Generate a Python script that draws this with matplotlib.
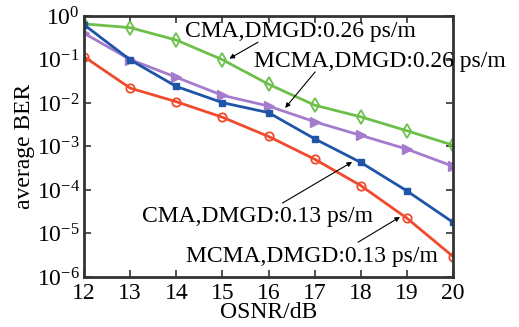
import matplotlib
matplotlib.use('Agg')
import matplotlib.pyplot as plt
import numpy as np

plt.rcParams['font.family'] = ['Liberation Serif', 'DejaVu Serif']
plt.rcParams['mathtext.fontset'] = 'stix'

osnr = [12, 13, 14, 15, 16, 17, 18, 19, 20]
cma_026 = [0.66, 0.54, 0.28, 0.099, 0.027, 0.0089, 0.0048, 0.0023, 0.00107]
mcma_026 = [0.40, 0.10, 0.039, 0.015, 0.0085, 0.0037, 0.0018, 0.00087, 0.00035]
cma_013 = [0.63, 0.098, 0.024, 0.0102, 0.006, 0.0015, 0.00043, 9.5e-5, 1.8e-5]
mcma_013 = [0.116, 0.022, 0.0107, 0.0047, 0.0017, 0.00051, 1.26e-4, 2.24e-5, 2.95e-6]

fig = plt.figure(figsize=(5.19, 3.27), dpi=100)
ax = fig.add_axes([0.162, 0.153, 0.711, 0.798])

ax.semilogy(osnr, cma_026, color='#6cc04a', lw=2, marker='d', ms=7, mfc='none', mew=1.3)
ax.semilogy(osnr, mcma_026, color='#a57ccd', lw=2, marker='>', ms=7)
ax.semilogy(osnr, cma_013, color='#1f55a8', lw=2, marker='s', ms=5)
ax.semilogy(osnr, mcma_013, color='#f04a2c', lw=2, marker='o', ms=6, mfc='none', mew=1.3)

ax.set_xlim(12, 20)
ax.set_ylim(1e-6, 1)
ax.set_xticks(osnr)
ax.set_yticks([1e0, 1e-1, 1e-2, 1e-3, 1e-4, 1e-5, 1e-6])
ax.tick_params(which='both', direction='in', top=True, right=True, labelsize=17, color='#333333')
ax.tick_params(which='major', length=5, width=1.2)
ax.tick_params(which='minor', length=3, width=0.8)
ax.tick_params(axis='x', pad=4)
ax.tick_params(axis='y', pad=3)
for s in ax.spines.values():
    s.set_linewidth(2)
    s.set_color('#333333')

ax.set_xlabel('OSNR/dB', fontsize=17, labelpad=-1)
ax.set_ylabel('average BER', fontsize=17, labelpad=1)

# podpisy krzywych
ax.text(16.69, 0.43, 'CMA,DMGD:0.26 ps/m', fontsize=17, ha='center', va='center')
ax.text(18.42, 0.088, 'MCMA,DMGD:0.26 ps/m', fontsize=17, ha='center', va='center', clip_on=False)
ax.text(15.77, 2.4e-5, 'CMA,DMGD:0.13 ps/m', fontsize=17, ha='center', va='center')
ax.text(16.95, 2.9e-6, 'MCMA,DMGD:0.13 ps/m', fontsize=17, ha='center', va='center')

# strzałki
ap = dict(arrowstyle='-|>', color='black', lw=0.8, mutation_scale=7, shrinkA=0, shrinkB=0)
ax.annotate('', xy=(15.15, 0.105), xytext=(15.77, 0.25), arrowprops=ap)
ax.annotate('', xy=(16.36, 0.0077), xytext=(17.01, 0.052), arrowprops=ap)
ax.annotate('', xy=(17.81, 4.4e-4), xytext=(16.30, 5.0e-5), arrowprops=ap)
ax.annotate('', xy=(18.85, 2.4e-5), xytext=(17.94, 6.3e-6), arrowprops=ap)

fig.savefig('out.png', dpi=100)
